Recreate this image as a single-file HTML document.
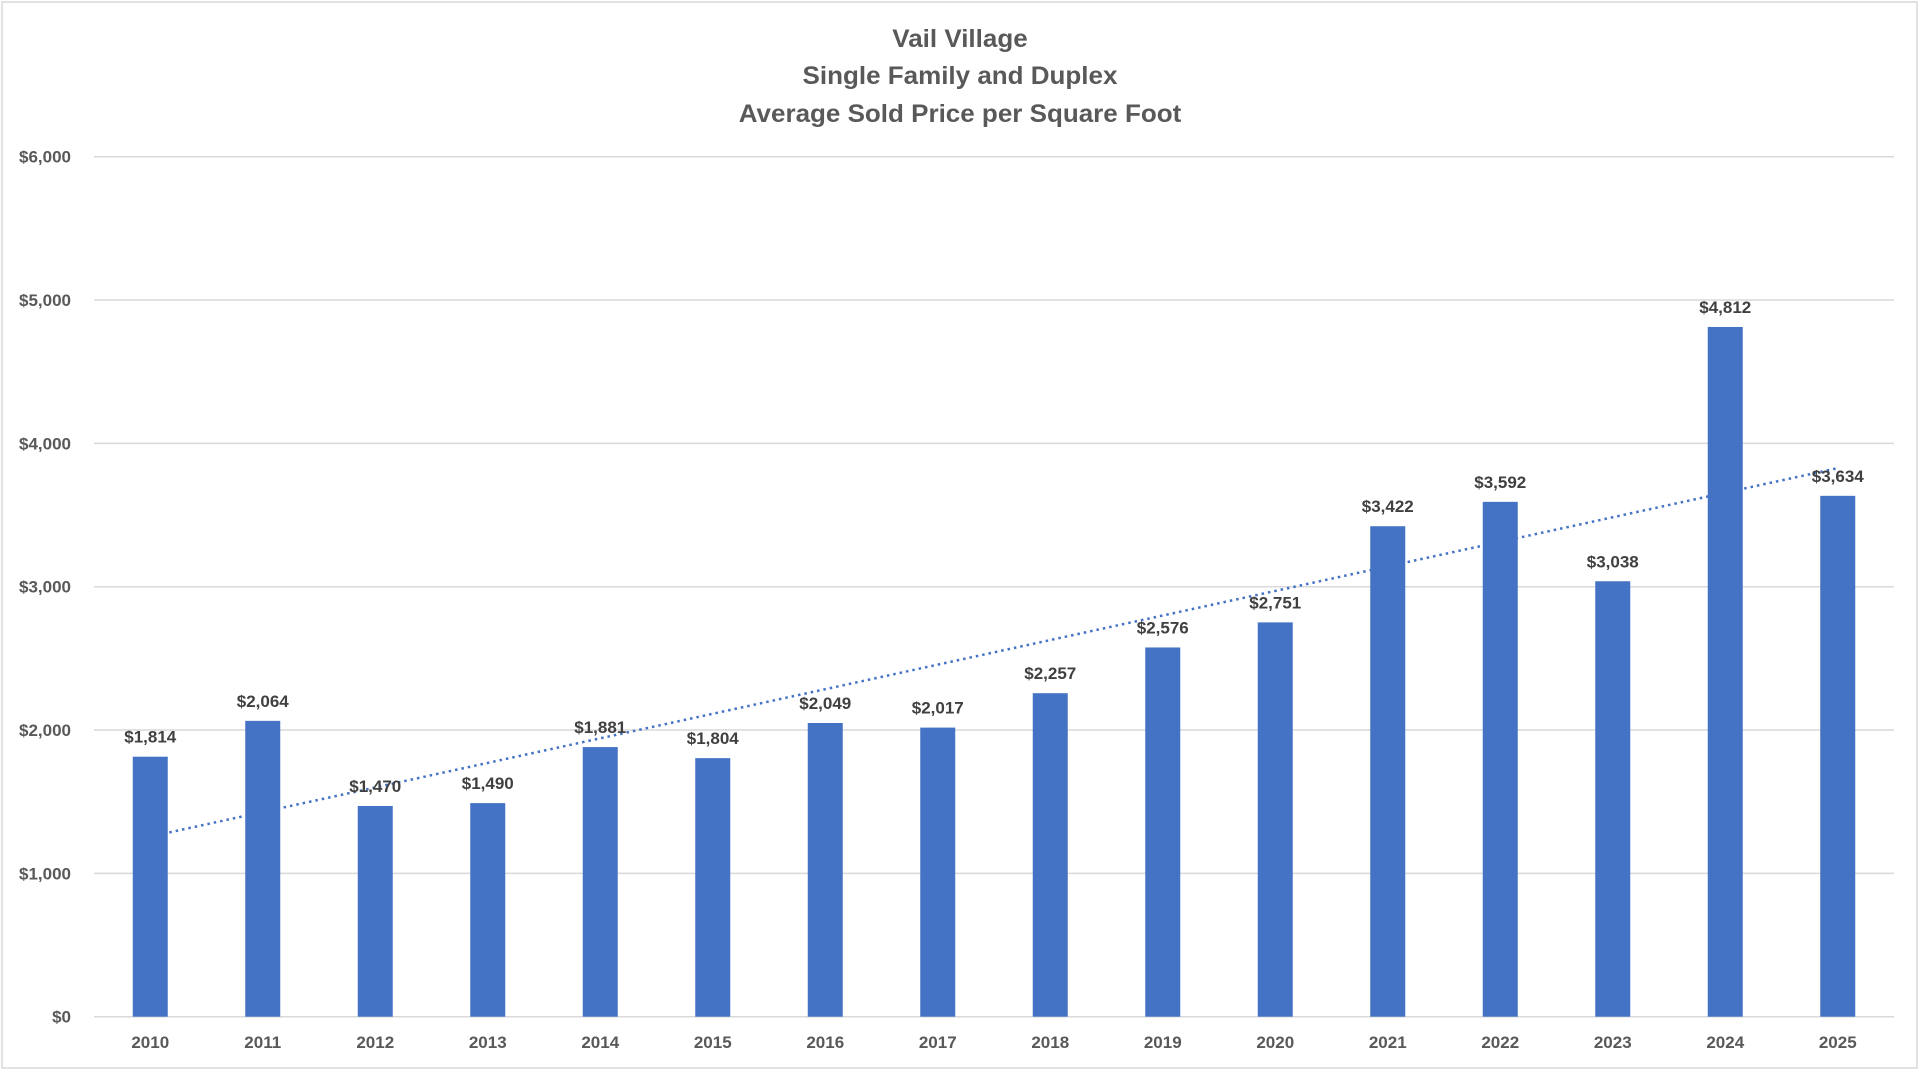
<!DOCTYPE html>
<html><head><meta charset="utf-8"><style>
html,body{margin:0;padding:0;background:#fff;}
svg{display:block;font-family:"Liberation Sans",sans-serif;}
</style></head><body>
<svg id="chart" width="1920" height="1070" viewBox="0 0 1920 1070">
<rect x="2" y="2" width="1915" height="1066" fill="#fff" stroke="#d9d9d9" stroke-width="1.5"/>
<g font-weight="bold" fill="#595959" font-size="25" text-anchor="middle" transform="translate(960,0) scale(1.04,1) translate(-960,0)">
<text x="960" y="47">Vail Village</text>
<text x="960" y="84">Single Family and Duplex</text>
<text x="960" y="122">Average Sold Price per Square Foot</text>
</g>
<g id="grid"></g>
<g id="yticks"></g>
<g id="trend"></g>
<g id="bars"></g>
<g id="labels"></g>
<g id="xticks"></g>
</svg>
<script>
const categories = ["2010","2011","2012","2013","2014","2015","2016","2017","2018","2019","2020","2021","2022","2023","2024","2025"];
const values = [1814,2064,1470,1490,1881,1804,2049,2017,2257,2576,2751,3422,3592,3038,4812,3634];
const yTicks = [0,1000,2000,3000,4000,5000,6000];

const NS = "http://www.w3.org/2000/svg";
const left = 94, right = 1894, y0 = 1016.7, yMaxPx = 156.7, yMax = 6000;
const band = (right-left)/categories.length;
const xC = i => left + band*(i+0.5);
const yS = v => y0 - (v/yMax)*(y0-yMaxPx);
const fmt = v => "$" + v.toLocaleString("en-US");
function mk(tag, attrs, parent){const e=document.createElementNS(NS,tag);for(const k in attrs)e.setAttribute(k,attrs[k]);parent.appendChild(e);return e;}

const grid=document.getElementById("grid"), yt=document.getElementById("yticks");
yTicks.forEach(t=>{
  const l=mk("line",{x1:left,x2:right,y1:yS(t),y2:yS(t),stroke:"#d9d9d9","stroke-width":1.5},grid);
  
  
  const tx=mk("text",{x:71,y:yS(t)+6,"text-anchor":"end","font-size":17,"font-weight":"bold",fill:"#595959"},yt);
  tx.textContent=fmt(t);
  
  
});

const n=values.length;let sx=0,sy=0,sxy=0,sxx=0;
values.forEach((v,i)=>{sx+=i;sy+=v;sxy+=i*v;sxx+=i*i;});
const slope=(n*sxy-sx*sy)/(n*sxx-sx*sx), icpt=(sy-slope*sx)/n;
const tl=mk("line",{x1:xC(0),y1:yS(icpt),x2:xC(n-1),y2:yS(icpt+slope*(n-1)),stroke:"#4472c4","stroke-width":2.5,"stroke-dasharray":"2.5 4"},document.getElementById("trend"));



const bars=document.getElementById("bars"), labs=document.getElementById("labels"), xt=document.getElementById("xticks");
const bw=35;
values.forEach((v,i)=>{
  const r=mk("rect",{x:xC(i)-bw/2,y:yS(v),width:bw,height:y0-yS(v),fill:"#4472c4"},bars);
  
  
  const t=mk("text",{x:xC(i),y:yS(v)-14,"text-anchor":"middle","font-size":17,"font-weight":"bold",fill:"#404040"},labs);
  t.textContent=fmt(v);
  
  
  const c=mk("text",{x:xC(i),y:1048,"text-anchor":"middle","font-size":17,"font-weight":"bold",fill:"#595959"},xt);
  c.textContent=categories[i];
  
  
});
</script>
</body></html>
